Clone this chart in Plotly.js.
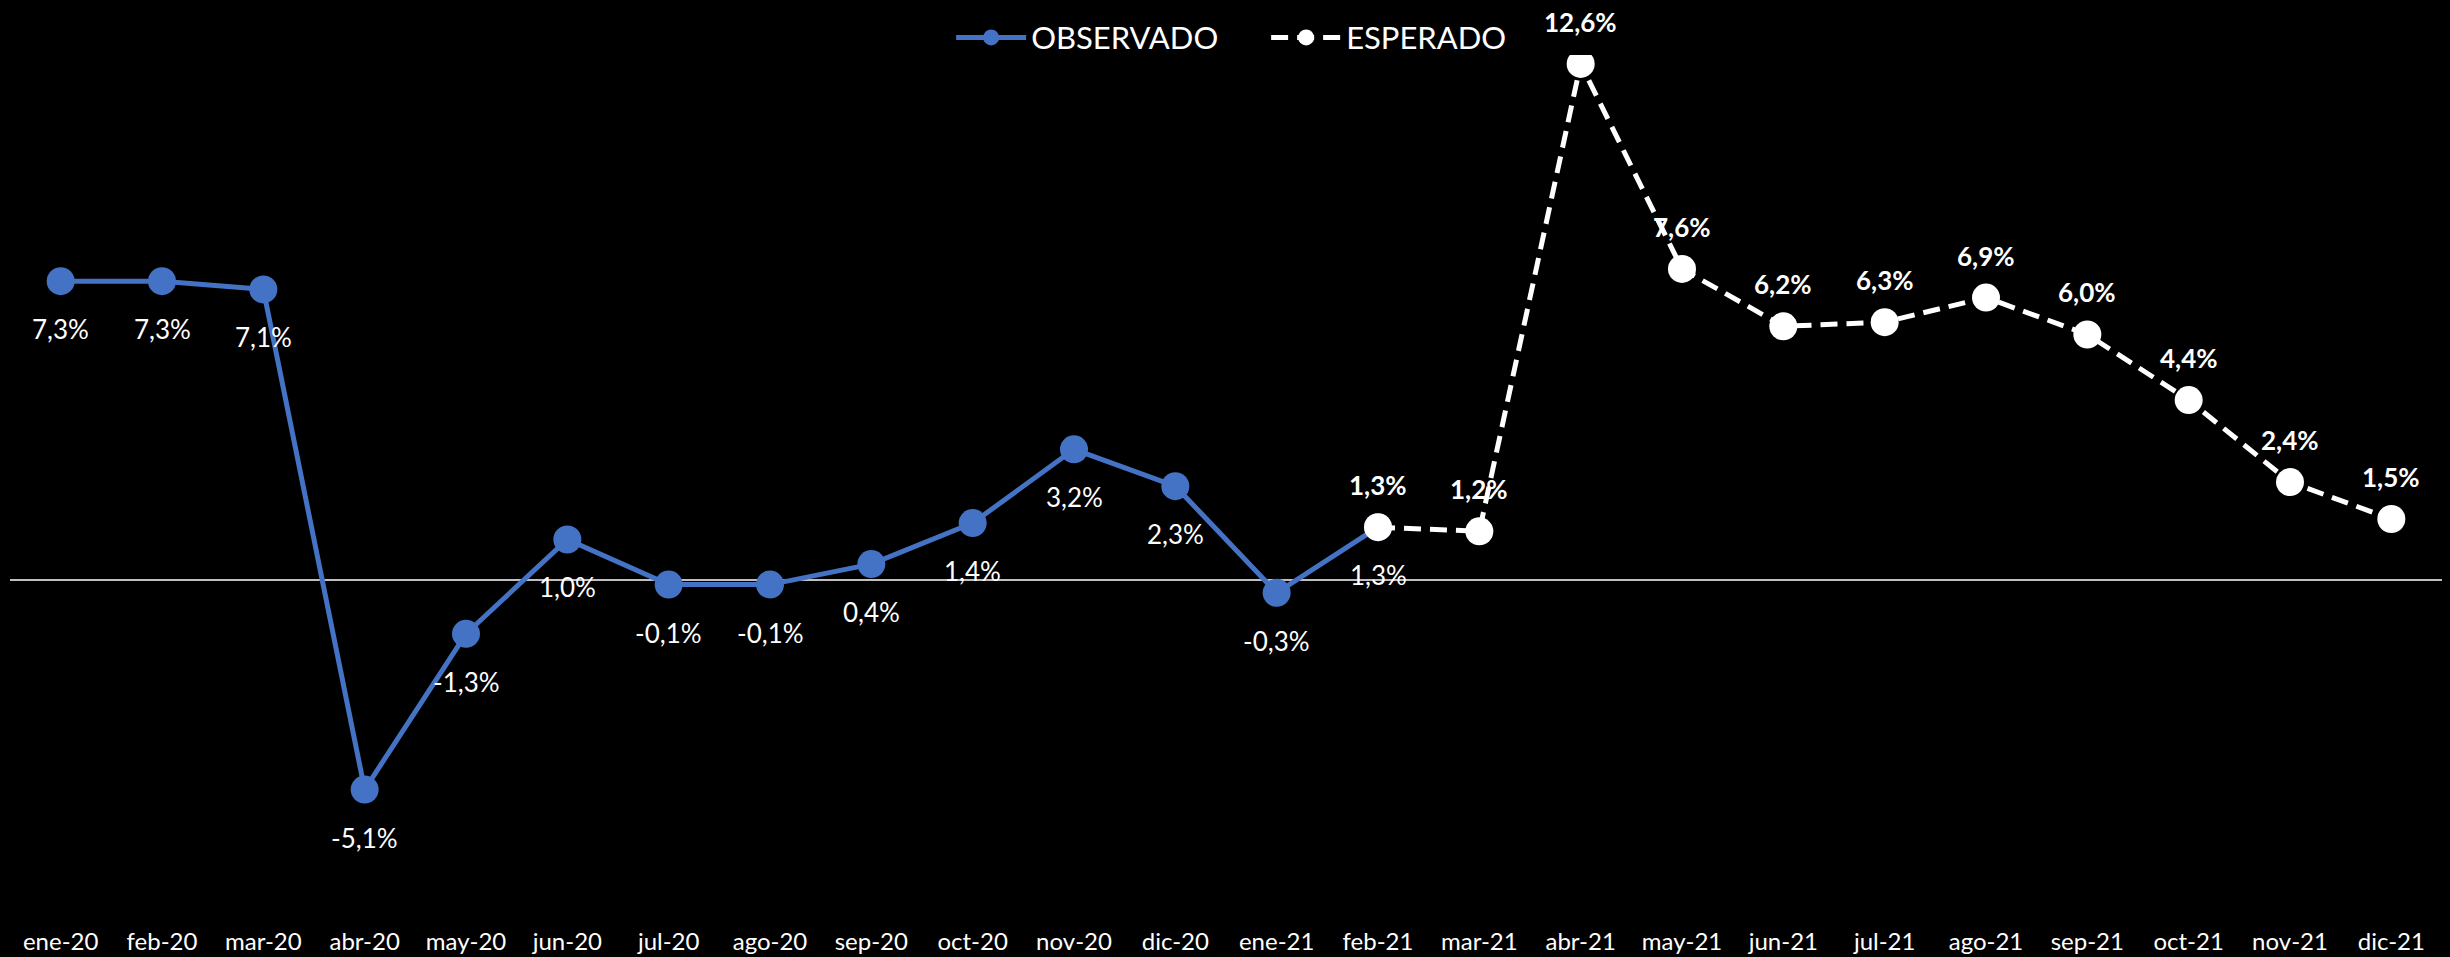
<!DOCTYPE html>
<html>
<head>
<meta charset="utf-8">
<script src="https://cdn.plot.ly/plotly-3.0.1.min.js"></script>
<style>
  html, body { margin: 0; padding: 0; background: #000; }
  #chart { width: 2450px; height: 957px; }
</style>
</head>
<body>
<div id="chart"></div>
<script>
// ---- Data ----
const months = ["ene-20","feb-20","mar-20","abr-20","may-20","jun-20","jul-20","ago-20","sep-20","oct-20","nov-20","dic-20",
                "ene-21","feb-21","mar-21","abr-21","may-21","jun-21","jul-21","ago-21","sep-21","oct-21","nov-21","dic-21"];
const observedMonths = months.slice(0, 14);
const observedValues = [7.3, 7.3, 7.1, -5.1, -1.3, 1.0, -0.1, -0.1, 0.4, 1.4, 3.2, 2.3, -0.3, 1.3];
const expectedMonths = months.slice(13);
const expectedValues = [1.3, 1.2, 12.6, 7.6, 6.2, 6.3, 6.9, 6.0, 4.4, 2.4, 1.5];

const fmt = v => v.toFixed(1).replace('.', ',') + '%';
const FONT = 'Lato, "Open Sans", sans-serif';

const traces = [
  {
    name: 'OBSERVADO',
    x: observedMonths, y: observedValues,
    type: 'scatter', mode: 'lines+markers',
    line: { color: '#4472C4', width: 5 },
    marker: { color: '#4472C4', size: 28 },
    hoverinfo: 'skip'
  },
  {
    name: 'ESPERADO',
    x: expectedMonths, y: expectedValues,
    type: 'scatter', mode: 'lines+markers',
    line: { color: '#FFFFFF', width: 5, dash: '17px,9px' },
    marker: { color: '#FFFFFF', size: 28 },
    hoverinfo: 'skip'
  }
];

const annotations = [];
observedMonths.forEach((m, i) => {
  annotations.push({
    x: m, y: observedValues[i], xref: 'x', yref: 'y',
    text: fmt(observedValues[i]), showarrow: false, yshift: -48,
    font: { family: FONT, size: 26, color: '#FFFFFF' }
  });
});
expectedMonths.forEach((m, i) => {
  annotations.push({
    x: m, y: expectedValues[i], xref: 'x', yref: 'y',
    text: '<b>' + fmt(expectedValues[i]) + '</b>', showarrow: false, yshift: 42,
    font: { family: FONT, size: 26, color: '#FFFFFF' }
  });
});

const layout = {
  width: 2450, height: 957,
  paper_bgcolor: '#000000', plot_bgcolor: '#000000',
  margin: { l: 10, r: 8, t: 55, b: 39 },
  font: { family: FONT, color: '#FFFFFF' },
  showlegend: true,
  legend: {
    orientation: 'h', x: 0.5165, xanchor: 'center', y: 1.02, yanchor: 'middle',
    font: { family: FONT, size: 31, color: '#FFFFFF' },
    bgcolor: 'rgba(0,0,0,0)', itemwidth: 70, entrywidth: 230, entrywidthmode: 'pixels'
  },
  xaxis: {
    type: 'category', categoryorder: 'array', categoryarray: months,
    range: [-0.5, 23.5],
    showgrid: false, showline: false, zeroline: false,
    ticks: 'outside', ticklen: 2, tickcolor: 'rgba(0,0,0,0)',
    tickfont: { family: FONT, size: 24, color: '#FFFFFF' }
  },
  yaxis: {
    range: [-8.232, 12.817],
    showgrid: false, showticklabels: false, ticks: '', showline: false,
    zeroline: true, zerolinecolor: '#BFBFBF', zerolinewidth: 2
  },
  annotations: annotations
};

Plotly.newPlot('chart', traces, layout, { staticPlot: true, displayModeBar: false });
</script>
</body>
</html>
